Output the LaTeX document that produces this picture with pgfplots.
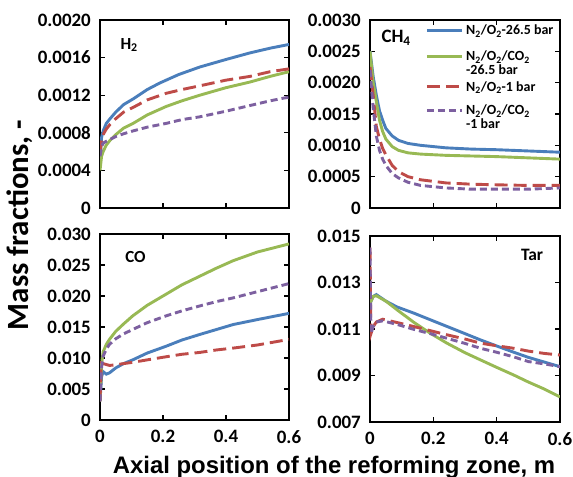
\documentclass[border=0pt]{standalone}
\usepackage{fontspec}
\setmainfont{Carlito}
\newfontfamily\arialfont{Liberation Sans}
\usepackage{pgfplots}
\pgfplotsset{compat=1.18}
\definecolor{sblue}{HTML}{4A7EBB}
\definecolor{sgreen}{HTML}{98B954}
\definecolor{sred}{HTML}{BE4B48}
\definecolor{spurple}{HTML}{7D60A0}

\pgfplotsset{
  panel/.style={scale only axis, xmin=0, xmax=0.6,
    axis line style={line width=1.6bp}, every tick/.style={black, line width=1.3bp},
    major tick length=5bp, tick align=inside, xtick={0,0.2,0.4,0.6},
    scaled ticks=false,
    tick label style={font=\fontsize{19}{20}\selectfont\bfseries},
    yticklabel style={inner sep=0pt, xshift=-9bp},
    xticklabel style={inner sep=0pt, yshift=-10bp}},
  sb/.style={sblue, line width=2.9bp},
  sg/.style={sgreen, line width=2.9bp},
  sr/.style={sred, line width=2.9bp, dash pattern=on 13bp off 6bp},
  sp/.style={spurple, line width=2.9bp, dash pattern=on 7bp off 4bp},
}
\newcommand\lbl[1]{\fontsize{#1}{#1}\selectfont\bfseries}
\newcommand\two[2]{\begin{tabular}[t]{@{}l@{}}#1\\#2\end{tabular}}

\begin{document}
\begin{tikzpicture}
\path[use as bounding box] (0,0) rectangle (573bp,477bp);

% H2
\begin{axis}[panel, at={(100bp,269bp)}, anchor=south west, width=189bp, height=188bp,
  ymin=0, ymax=0.002, ytick={0,0.0004,0.0008,0.0012,0.0016,0.002},
  yticklabels={0,0.0004,0.0008,0.0012,0.0016,0.0020}, xticklabels={}]
\addplot[sb] coordinates {(0,0.00048)(0.005,0.00075)(0.01,0.00082)(0.02,0.0009)(0.032,0.00095)(0.05,0.00102)(0.075,0.0011)(0.105,0.00116)(0.15,0.00126)(0.19,0.00133)(0.25,0.00142)(0.317,0.0015)(0.4,0.00158)(0.476,0.00165)(0.54,0.0017)(0.6,0.00174)};
\addplot[sg] coordinates {(0,0.0004)(0.005,0.00055)(0.01,0.0006)(0.02,0.00067)(0.032,0.00072)(0.05,0.00078)(0.075,0.00085)(0.105,0.0009)(0.15,0.00099)(0.21,0.00108)(0.26,0.00114)(0.317,0.0012)(0.4,0.00128)(0.476,0.00134)(0.54,0.0014)(0.6,0.00145)};
\addplot[sr] coordinates {(0,0.00058)(0.005,0.00072)(0.01,0.00078)(0.02,0.00084)(0.032,0.00089)(0.05,0.00095)(0.075,0.00102)(0.105,0.00107)(0.15,0.00115)(0.21,0.00122)(0.26,0.00126)(0.317,0.0013)(0.4,0.00136)(0.476,0.0014)(0.54,0.00145)(0.6,0.00148)};
\addplot[sp] coordinates {(0,0.00055)(0.005,0.00065)(0.01,0.00069)(0.02,0.00071)(0.032,0.00073)(0.05,0.00076)(0.075,0.00079)(0.105,0.00082)(0.15,0.00086)(0.21,0.0009)(0.26,0.00094)(0.317,0.00097)(0.4,0.00103)(0.476,0.00109)(0.54,0.00114)(0.6,0.00118)};
\node[anchor=west, font=\lbl{17}] at (axis description cs:0.09,0.867) {H\textsubscript{2}};
\end{axis}

% CH4
\begin{axis}[panel, at={(370bp,269bp)}, anchor=south west, width=190bp, height=188bp,
  ymin=0, ymax=0.003, ytick={0,0.0005,0.001,0.0015,0.002,0.0025,0.003},
  yticklabels={0,0.0005,0.0010,0.0015,0.0020,0.0025,0.0030}, xticklabels={},
  legend style={at={(0.29,0.975)}, anchor=north west, draw=none, fill=none, inner sep=0pt,
    row sep=0pt, column sep=3bp, font=\fontsize{14}{13.4}\selectfont\bfseries,
    cells={anchor=base west}, nodes={inner sep=0pt, text height=10bp}},
  legend image code/.code={\draw[#1] (0bp,4.5bp)--(35bp,4.5bp);}]
\addplot[sb] coordinates {(0,0.0025)(0.01,0.0021)(0.02,0.0018)(0.03,0.00155)(0.04,0.0014)(0.05,0.00127)(0.07,0.00115)(0.09,0.00108)(0.12,0.00103)(0.16,0.001)(0.24,0.00096)(0.32,0.00094)(0.4,0.00093)(0.5,0.00091)(0.6,0.00089)};
\addlegendentry[text depth=16bp]{N\textsubscript{2}/O\textsubscript{2}-26.5 bar}
\addplot[sg] coordinates {(0,0.0025)(0.01,0.002)(0.02,0.0017)(0.03,0.0014)(0.04,0.00122)(0.05,0.0011)(0.07,0.00098)(0.09,0.00092)(0.12,0.00088)(0.16,0.00086)(0.24,0.00084)(0.32,0.00083)(0.4,0.00082)(0.5,0.0008)(0.6,0.00078)};
\addlegendentry[text depth=20.3bp]{\two{N\textsubscript{2}/O\textsubscript{2}/CO\textsubscript{2}}{-26.5 bar}}
\addplot[sr] coordinates {(0,0.00225)(0.01,0.0018)(0.02,0.0013)(0.03,0.0011)(0.04,0.00095)(0.05,0.00085)(0.07,0.00068)(0.09,0.00058)(0.12,0.0005)(0.16,0.00045)(0.24,0.0004)(0.32,0.00038)(0.4,0.00037)(0.5,0.00036)(0.6,0.00036)};
\addlegendentry[text depth=13.7bp]{N\textsubscript{2}/O\textsubscript{2}-1 bar}
\addplot[sp] coordinates {(0,0.0022)(0.01,0.0016)(0.02,0.00115)(0.03,0.00092)(0.04,0.00078)(0.05,0.00068)(0.07,0.00055)(0.09,0.00048)(0.12,0.00041)(0.16,0.00036)(0.24,0.00032)(0.32,0.0003)(0.4,0.0003)(0.5,0.0003)(0.6,0.00032)};
\addlegendentry[text depth=17bp]{\two{N\textsubscript{2}/O\textsubscript{2}/CO\textsubscript{2}}{-1 bar}}
\node[anchor=west, font=\lbl{19}] at (axis description cs:0.042,0.905) {CH\textsubscript{4}};
\end{axis}

% CO
\begin{axis}[panel, at={(100bp,57bp)}, anchor=south west, width=189bp, height=186bp,
  ymin=0, ymax=0.03, ytick={0,0.005,0.01,0.015,0.02,0.025,0.03},
  yticklabels={0,0.005,0.010,0.015,0.020,0.025,0.030}, xticklabels={0,0.2,0.4,0.6}]
\addplot[sb] coordinates {(0,0.003)(0.005,0.007)(0.01,0.0078)(0.02,0.0074)(0.03,0.0076)(0.05,0.0084)(0.075,0.0091)(0.104,0.0097)(0.15,0.0108)(0.21,0.0119)(0.26,0.0129)(0.317,0.0138)(0.37,0.0146)(0.423,0.0154)(0.5,0.0162)(0.6,0.0172)};
\addplot[sg] coordinates {(0,0.003)(0.005,0.009)(0.01,0.011)(0.02,0.0122)(0.03,0.013)(0.05,0.0143)(0.075,0.0155)(0.104,0.0168)(0.15,0.0185)(0.21,0.0203)(0.26,0.0218)(0.317,0.0232)(0.37,0.0245)(0.423,0.0257)(0.5,0.0271)(0.6,0.0284)};
\addplot[sr] coordinates {(0,0.003)(0.004,0.0092)(0.01,0.0091)(0.03,0.0088)(0.05,0.0089)(0.075,0.0091)(0.104,0.0093)(0.15,0.0097)(0.21,0.0102)(0.26,0.0106)(0.317,0.0109)(0.37,0.0113)(0.423,0.0116)(0.5,0.0121)(0.6,0.013)};
\addplot[sp] coordinates {(0,0.003)(0.005,0.0085)(0.01,0.0103)(0.02,0.0114)(0.03,0.0122)(0.05,0.0131)(0.075,0.0139)(0.104,0.0146)(0.15,0.0157)(0.21,0.0168)(0.26,0.0176)(0.317,0.0184)(0.37,0.0191)(0.423,0.0197)(0.5,0.0207)(0.6,0.022)};
\node[anchor=west, font=\lbl{17}] at (axis description cs:0.115,0.874) {CO};
\end{axis}

% Tar
\begin{axis}[panel, at={(370bp,55bp)}, anchor=south west, width=190bp, height=186bp,
  ymin=0.007, ymax=0.015, ytick={0.007,0.009,0.011,0.013,0.015},
  yticklabels={0.007,0.009,0.011,0.013,0.015}, xticklabels={0,0.2,0.4,0.6}]
\addplot[sb] coordinates {(0,0.0121)(0.01,0.0124)(0.02,0.01248)(0.05,0.0122)(0.085,0.01195)(0.137,0.01169)(0.19,0.0114)(0.243,0.01111)(0.3,0.0108)(0.349,0.01053)(0.4,0.01027)(0.454,0.01)(0.5,0.00978)(0.55,0.00958)(0.6,0.00938)};
\addplot[sg] coordinates {(0,0.0121)(0.01,0.0124)(0.02,0.01243)(0.05,0.0122)(0.085,0.01183)(0.137,0.0113)(0.19,0.01082)(0.243,0.01039)(0.3,0.00998)(0.349,0.00967)(0.4,0.00935)(0.454,0.00902)(0.5,0.00872)(0.55,0.00842)(0.6,0.00808)};
\addplot[sr] coordinates {(0,0.0145)(0.003,0.0108)(0.01,0.0111)(0.02,0.0113)(0.04,0.01142)(0.085,0.01128)(0.137,0.01111)(0.19,0.01093)(0.243,0.01075)(0.3,0.01057)(0.349,0.01039)(0.4,0.01028)(0.454,0.01017)(0.5,0.01005)(0.55,0.00995)(0.6,0.00988)};
\addplot[sp] coordinates {(0,0.0145)(0.003,0.0108)(0.01,0.0111)(0.02,0.0113)(0.04,0.01135)(0.085,0.0112)(0.137,0.01099)(0.19,0.0108)(0.243,0.0106)(0.3,0.01038)(0.349,0.01017)(0.4,0.01)(0.454,0.0098)(0.5,0.0096)(0.55,0.0095)(0.6,0.00938)};
\node[anchor=east, font=\lbl{17.5}] at (axis description cs:0.93,0.898) {Tar};
\end{axis}

\node[rotate=90, anchor=base, font=\lbl{31}] at (28bp,252bp) {Mass fractions, -};
\node[anchor=base, font=\arialfont\fontsize{24}{26}\selectfont\bfseries] at (334bp,4bp) {Axial position of the reforming zone, m};
\end{tikzpicture}
\end{document}
